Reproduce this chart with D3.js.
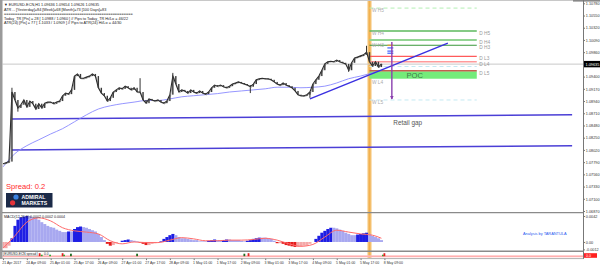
<!DOCTYPE html>
<html><head><meta charset="utf-8">
<script src="https://cdn.jsdelivr.net/npm/d3@7"></script>
<style>body{margin:0;background:#fff;overflow:hidden}svg{display:block;font-family:"Liberation Sans",Arial,sans-serif}</style>
</head><body><svg id="c" width="600" height="267"></svg>
<script>
// ---------- DATA ----------
const closes = [1.0776,1.0778,1.0780,1.0911,1.0896,1.0881,1.0887,1.0896,1.0883,1.0894,
1.0889,1.0879,1.0889,1.0881,1.0890,1.0892,1.0892,1.0889,1.0892,1.0894,
1.0904,1.0909,1.0907,1.0915,1.0941,1.0945,1.0937,1.0937,1.0939,1.0941,
1.0945,1.0941,1.0919,1.0909,1.0904,1.0894,1.0900,1.0911,1.0915,1.0919,
1.0917,1.0922,1.0919,1.0915,1.0919,1.0911,1.0911,1.0896,1.0890,1.0898,
1.0896,1.0894,1.0896,1.0892,1.0890,1.0894,1.0906,1.0941,1.0926,1.0911,
1.0915,1.0913,1.0909,1.0915,1.0911,1.0909,1.0913,1.0909,1.0907,1.0911,
1.0919,1.0924,1.0922,1.0924,1.0921,1.0919,1.0922,1.0926,1.0928,1.0930,
1.0928,1.0926,1.0924,1.0921,1.0926,1.0934,1.0936,1.0937,1.0936,1.0936,
1.0934,1.0930,1.0926,1.0924,1.0928,1.0924,1.0922,1.0919,1.0913,1.0906,
1.0904,1.0904,1.0906,1.0911,1.0926,1.0934,1.0941,1.0952,1.0964,1.0968,
1.0969,1.0968,1.0971,1.0968,1.0966,1.0964,1.0952,1.0966,1.0975,1.0977,
1.0979,1.0981,1.0986,1.0968,1.0960,1.0968,1.0958,1.0964];
const spikeIdx  = [3, 5, 46, 57, 83, 103, 116, 122];
const spikeVals = [1.0919, 1.0874, 1.0937, 1.0947, 1.0909, 1.0900, 1.0949, 1.0998];

const maIdx  = [0,4,8,12,16,20,24,28,32,36,40,44,48,52,56,60,64,68,72,76,80,84,88,92,96,100,104,108,112,116,120,124,127];
const maVals = [1.0770,1.0795,1.0810,1.0821,1.0832,1.0842,1.0855,1.0868,1.0879,1.0885,1.0889,1.0892,1.0895,1.0895,1.0898,1.0902,1.0904,1.0906,1.0908,1.0911,1.0913,1.0915,1.0917,1.0920,1.0920,1.0919,1.0920,1.0922,1.0928,1.0936,1.0941,1.0947,1.0952];

const trendIdx  = [103, 149.3];
const trendVals = [1.0898, 1.1003];
const gapIdx   = [3, 191];
const gapUpper = [1.0860, 1.0868];
const gapLower = [1.0802, 1.0810];

const levelNames = ["W H5","D H5","D H4","D H3","D L3","D L4","W L3","D L5","W L5"];
const levelVals  = [1.1069, 1.1026, 1.1009, 1.0999, 1.0978, 1.0968, 1.0959, 1.0951, 1.0896];
const levelStart = 123, levelEnd = 159;
const dLabelNames = ["D H5","D H4","D H3","D L3","D L4","D L5"];
const dLabelVals  = [1.1026, 1.1009, 1.0999, 1.0978, 1.0968, 1.0951];
const wLabelNames = ["W H5","W H4","W H3","W L4","W L5"];
const wLabelVals  = [1.1069, 1.1026, 1.1004, 1.0933, 1.0896];
const pocRange = [1.0936, 1.0950];
const arrowIdx = 130.5, arrowRange = [1.1005, 1.0898];
const markIdx = [129, 131];
const markVals = [1.0999, 1.0994, 1.0988, 1.0984];
const weekSepIdx = 123;

const priceTicks = [1.10780,1.10550,1.10320,1.10090,1.09860,1.09630,1.09400,1.09170,1.08940,1.08710,1.08480,1.08250,1.08020,1.07790,1.07560,1.07330,1.07100,1.06870];
const lastPrice = 1.09635;

const macdHist = [-0.0010,-0.0010,-0.0006,0.0006,0.0026,0.0036,0.0040,0.0041,0.0042,0.0042,
0.0040,0.0039,0.0036,0.0032,0.0029,0.0026,0.0024,0.0023,0.0020,0.0018,
0.0016,0.0016,0.0017,0.0017,0.0021,0.0024,0.0025,0.0024,0.0023,0.0021,
0.0019,0.0017,0.0013,0.0008,0.0003,-0.0003,-0.0006,-0.0005,-0.0002,0.0000,
0.0002,0.0003,0.0004,0.0003,0.0002,0.0001,-0.0001,-0.0003,-0.0005,-0.0005,
-0.0003,-0.0002,0.0000,0.0001,0.0005,0.0008,0.0011,0.0013,0.0011,0.0008,
0.0006,0.0006,0.0005,0.0004,0.0003,0.0003,0.0001,0.0001,0.0001,0.0002,
0.0003,0.0004,0.0003,0.0002,0.0003,0.0004,0.0004,0.0003,0.0003,0.0003,
0.0002,0.0001,0.0002,0.0003,0.0005,0.0006,0.0007,0.0007,0.0007,0.0006,
0.0005,0.0002,-0.0002,-0.0002,-0.0003,-0.0005,-0.0006,-0.0007,-0.0008,-0.0008,
-0.0007,-0.0006,-0.0006,-0.0003,0.0000,0.0005,0.0010,0.0015,0.0018,0.0021,
0.0023,0.0023,0.0022,0.0020,0.0018,0.0015,0.0013,0.0011,0.0011,0.0012,
0.0013,0.0014,0.0015,0.0013,0.0010,0.0008,0.0006,0.0003];
const sigIdx = maIdx;
const sigVals = [-0.0010,0.0010,0.0032,0.0039,0.0034,0.0023,0.0018,0.0016,0.0013,0.0002,-0.0003,0.0000,-0.0001,-0.0001,0.0003,0.0007,0.0005,0.0002,0.0002,0.0003,0.0003,0.0004,0.0006,0.0003,-0.0003,-0.0007,-0.0004,0.0008,0.0019,0.0016,0.0013,0.0011,0.0006];
const macdTicks = [0.0042, 0.0, -0.0012];
const macdTickLabels = ["0.0042","0.00","-0.0012"];

const spreadIdx  = [12.3, 13, 15.8, 20, 20.5, 22.8, 45, 81, 82.4, 127.5, 128];
const spreadVals = [3, 1.5, 1.5, 3, 1.5, 2.5, 2.5, 2.5, 3, 1.5, 3];

const dateLabels = ["21 Apr 2017","24 Apr 09:00","25 Apr 01:00","25 Apr 17:00","26 Apr 09:00","27 Apr 01:00","27 Apr 17:00","28 Apr 09:00","1 May 01:00","1 May 17:00","2 May 09:00","3 May 01:00","3 May 17:00","4 May 09:00","5 May 01:00","5 May 17:00","8 May 09:00"];
const dateIdx = d3.range(0, 129, 8);

const headerLines = [
 "\u25BC EURUSD-ECN,H1  1.09636 1.09654 1.09626 1.09635",
 "ATR -- [Yesterday]=84      [Week]=68      [Month]=73      [100 Days]=83",
 "==========================================================",
 "Today_TR [Pts] = 28 [ 1.0988 / 1.0960 ]  // Pips to Today_TR Hi/Lo  = 46/22",
 "ATR(24)      [Pts] = 77 [ 1.1033 / 1.0909 ]  // Pips to ATR(24) Hi/Lo      = 44/30"
];

// ---------- DRAW ----------
const FONT = '"Liberation Sans",Arial,sans-serif';
const svg = d3.select('#c');
const x = d3.scaleLinear().domain([0,128]).range([3,384.4]);
const y = d3.scaleLinear().domain([1.0687,1.1078]).range([211,3.3]);
const ym = d3.scaleLinear().domain([-0.0012,0.0042]).range([249.4,216]);

const defs = svg.append('defs');
defs.append('clipPath').attr('id','cm').append('rect').attr('x',2.5).attr('y',0).attr('width',581).attr('height',212);
defs.append('clipPath').attr('id','cd').append('rect').attr('x',2.5).attr('y',213.5).attr('width',581).attr('height',37.5);

svg.append('rect').attr('width',600).attr('height',267).attr('fill','#fff');

// week separator band
const bx = x(weekSepIdx);
svg.append('rect').attr('x',bx-2.2).attr('y',0).attr('width',4.4).attr('height',258).attr('fill','#f8d49a');
svg.append('rect').attr('x',bx-1.1).attr('y',0).attr('width',2.2).attr('height',258).attr('fill','#f2b14f');

const main = svg.append('g').attr('clip-path','url(#cm)');
main.append('line').attr('x1',2).attr('x2',583.5).attr('y1',y(lastPrice)).attr('y2',y(lastPrice)).attr('stroke','#c8c8c8').attr('stroke-width',1);

main.append('rect').attr('x',x(levelStart)).attr('width',x(levelEnd)-x(levelStart))
  .attr('y',y(pocRange[1])).attr('height',y(pocRange[0])-y(pocRange[1])).attr('fill','#74ec7a');

const levelStyle = {
 'W H5':{c:'#b4eeb4',w:1,d:'4,3'}, 'D H5':{c:'#5cb85c',w:1.5}, 'D H4':{c:'#93d493',w:2},
 'D H3':{c:'#3a963a',w:1}, 'D L3':{c:'#ff5a5a',w:1.4}, 'D L4':{c:'#ff9a9a',w:1.6},
 'W L3':{c:'#c4e9f2',w:1,d:'4,3'}, 'D L5':{c:'#c2604f',w:1.5}, 'W L5':{c:'#c4e9f2',w:1,d:'4,3'}
};
levelNames.forEach((n,k)=>{
  const s = levelStyle[n];
  main.append('line').attr('x1',x(levelStart)).attr('x2',x(levelEnd)).attr('y1',y(levelVals[k])).attr('y2',y(levelVals[k]))
    .attr('stroke',s.c).attr('stroke-width',s.w).attr('stroke-dasharray',s.d||null);
});

[gapUpper, gapLower].forEach(v=>{
  main.append('line').attr('x1',x(gapIdx[0])).attr('x2',x(gapIdx[1])).attr('y1',y(v[0])).attr('y2',y(v[1]))
   .attr('stroke','#4b3fd6').attr('stroke-width',1.5);
});

main.append('path').datum(maIdx.map((d,k)=>[d,maVals[k]]))
  .attr('d', d3.line().x(d=>x(d[0])).y(d=>y(d[1])).curve(d3.curveMonotoneX))
  .attr('fill','none').attr('stroke','#8a8aff').attr('stroke-width',0.9);

main.append('line').attr('x1',x(trendIdx[0])).attr('x2',x(trendIdx[1])).attr('y1',y(trendVals[0])).attr('y2',y(trendVals[1]))
  .attr('stroke','#3a30e0').attr('stroke-width',1.5);

spikeIdx.forEach((i,k)=>{
  main.append('line').attr('x1',x(i)).attr('x2',x(i)).attr('y1',y(closes[i])).attr('y2',y(spikeVals[k]))
    .attr('stroke','#333').attr('stroke-width',1);
});
main.append('path').datum(closes)
  .attr('d', d3.line().x((d,i)=>x(i)+0.8).y(d=>y(d)+0.7))
  .attr('fill','none').attr('stroke','#8a8a8a').attr('stroke-width',0.7);
main.append('path').datum(closes)
  .attr('d', d3.line().x((d,i)=>x(i)).y(d=>y(d)))
  .attr('fill','none').attr('stroke','#2b2b2b').attr('stroke-width',1.1).attr('stroke-linejoin','miter');
main.selectAll('rect.cb').data(closes.slice(1)).join('rect').attr('class','cb')
  .attr('x',(d,k)=>x(k+1)-0.7).attr('width',1.4)
  .attr('y',(d,k)=>Math.min(y(d),y(closes[k]))).attr('height',(d,k)=>Math.max(0.6,Math.abs(y(d)-y(closes[k]))))
  .attr('fill','#3a3a3a');

const markColors = ['#f0a030','#4060ff','#4060ff','#4060ff'];
markVals.forEach((v,k)=>{
  main.append('line').attr('x1',x(markIdx[0])).attr('x2',x(markIdx[1])).attr('y1',y(v)).attr('y2',y(v))
    .attr('stroke',markColors[k]).attr('stroke-width',1.2);
});
const ax0 = x(arrowIdx);
main.append('line').attr('x1',ax0).attr('x2',ax0).attr('y1',y(arrowRange[0])).attr('y2',y(arrowRange[1]))
  .attr('stroke','#8a3fae').attr('stroke-width',1.4);
main.append('path').attr('d',`M${ax0-1.8},${y(arrowRange[1])-3}L${ax0+1.8},${y(arrowRange[1])-3}L${ax0},${y(arrowRange[1])+0.5}Z`).attr('fill','#8a3fae');

const lblFont = 4.8;
dLabelNames.forEach((n,k)=>{
  main.append('text').attr('x',x(levelEnd)+2.5).attr('y',y(dLabelVals[k])+3.8).attr('font-size',lblFont).attr('fill','#999').text(n);
});
wLabelNames.forEach((n,k)=>{
  main.append('text').attr('x',x(levelStart)+2.5).attr('y',y(wLabelVals[k])+4).attr('font-size',lblFont).attr('fill','#aaa').text(n);
});
main.append('text').attr('x',x(levelStart)+37).attr('y',y(pocRange[0])-0.8).attr('font-size',7.6).attr('fill','#3f7a4a').text('POC');
main.append('text').attr('x',x(131)).attr('y',y(1.0853)+2.5).attr('font-size',6.4).attr('fill','#555').text('Retail gap');

headerLines.forEach((t,k)=>{
  svg.append('text').attr('x',4).attr('y',[5.6,11.4,15.4,19.6,23.8][k]).attr('font-size',3.8).attr('fill','#222').text(t);
});

svg.append('text').attr('x',6).attr('y',188.6).attr('font-size',7.6).attr('fill','#ff2a2a').text('Spread:  0.2');
svg.append('rect').attr('x',6).attr('y',193).attr('width',46.5).attr('height',14.5).attr('fill','#1b2a48');
svg.append('circle').attr('cx',16).attr('cy',197).attr('r',2.6).attr('fill','#3b82e0');
svg.append('circle').attr('cx',12.6).attr('cy',202.8).attr('r',2.6).attr('fill','#e5333a');
svg.append('text').attr('x',21.5).attr('y',199).attr('font-size',5.2).attr('font-weight','bold').attr('fill','#fff').text('ADMIRAL');
svg.append('text').attr('x',21.5).attr('y',205.4).attr('font-size',5.2).attr('font-weight','bold').attr('fill','#fff').text('MARKETS');

// ---------- MACD ----------
const md = svg.append('g').attr('clip-path','url(#cd)');
const bw = x(1)-x(0);
md.selectAll('rect.h').data(macdHist).join('rect').attr('class','h')
  .attr('x',(d,i)=>x(i)-bw/2).attr('width',bw+0.1)
  .attr('y',d=>Math.min(ym(d),ym(0))).attr('height',d=>Math.abs(ym(d)-ym(0)))
  .attr('fill',(d,i)=>{
    const p = i>0?macdHist[i-1]:d;
    if(d>=0) return d>p?'#1e1ee4':'#a8a8f0';
    return d<p?'#e51c1c':'#f4a8a8';
  });
md.append('path').datum(sigIdx.map((d,k)=>[d,sigVals[k]]))
  .attr('d', d3.line().x(d=>x(d[0])).y(d=>ym(d[1])).curve(d3.curveMonotoneX))
  .attr('fill','none').attr('stroke','#ff6a6a').attr('stroke-width',1);
svg.append('text').attr('x',4).attr('y',217.6).attr('font-size',3.6).attr('fill','#222').text('MACD(12,26,9) 0.0002 0.0002 0.0004');
svg.append('text').attr('x',523).attr('y',234.6).attr('font-size',3.9).attr('fill','#2a5af0').text('Analysis by TARANTULA');

// ---------- spread panel ----------
svg.append('rect').attr('x',2.5).attr('y',255.4).attr('width',581).attr('height',2).attr('fill','#ffd0d0');
svg.append('line').attr('x1',2.5).attr('x2',583.5).attr('y1',256.2).attr('y2',256.2).attr('stroke','#ff8080').attr('stroke-width',0.6);
const spColors = ['#e52020','#2fa82f','#2fa82f','#e52020','#2fa82f','#1f6a1f','#1f6a1f','#1f6a1f','#e52020','#2fa82f','#e52020'];
spreadIdx.forEach((i,k)=>{
  svg.append('rect').attr('x',x(i)-0.9).attr('width',1.8).attr('y',256.2-spreadVals[k]).attr('height',spreadVals[k]).attr('fill',spColors[k]);
});
svg.append('rect').attr('x',3.5).attr('y',251.8).attr('width',34).attr('height',4).attr('fill','#fff').attr('stroke','#888').attr('stroke-width',0.4);
svg.append('text').attr('x',4.3).attr('y',255).attr('font-size',3.2).attr('fill','#222').text('EURUSD-ECN spread');
svg.append('text').attr('x',44).attr('y',255).attr('font-size',3.2).attr('fill','#222').text('0.0');

// ---------- frame ----------
svg.append('line').attr('x1',0).attr('x2',600).attr('y1',0.5).attr('y2',0.5).attr('stroke','#c8c8c8');
svg.append('rect').attr('x',573).attr('y',0).attr('width',27).attr('height',1.6).attr('fill','#888');
svg.append('rect').attr('x',0).attr('y',0).attr('width',2.5).attr('height',259).attr('fill','#9a9a9a');
svg.append('line').attr('x1',583.5).attr('x2',583.5).attr('y1',0).attr('y2',259).attr('stroke','#777').attr('stroke-width',1);
svg.append('line').attr('x1',2).attr('x2',583.5).attr('y1',212.6).attr('y2',212.6).attr('stroke','#8a8a8a').attr('stroke-width',1.4);
svg.append('line').attr('x1',2).attr('x2',583.5).attr('y1',251.3).attr('y2',251.3).attr('stroke','#8a8a8a').attr('stroke-width',1.4);
svg.append('line').attr('x1',2).attr('x2',583.5).attr('y1',258.6).attr('y2',258.6).attr('stroke','#9a9a9a').attr('stroke-width',0.8);

// price axis
const pa = svg.append('g').attr('transform','translate(583.5,0)')
  .call(d3.axisRight(y).tickValues(priceTicks).tickSize(1.5).tickPadding(0.8).tickFormat(d3.format('.5f')));
pa.select('.domain').remove();
pa.selectAll('line').attr('stroke','#777');
pa.selectAll('text').attr('font-size',3.8).attr('fill','#333').attr('font-family',FONT);
svg.append('rect').attr('x',584).attr('y',y(lastPrice)-3.2).attr('width',16).attr('height',6.4).attr('fill','#000');
svg.append('text').attr('x',585.6).attr('y',y(lastPrice)+1.4).attr('font-size',3.8).attr('fill','#fff').text(d3.format('.5f')(lastPrice));

// macd axis
const ma = svg.append('g').attr('transform','translate(583.5,0)')
  .call(d3.axisRight(ym).tickValues(macdTicks).tickSize(1.5).tickPadding(0.8).tickFormat((d,k)=>macdTickLabels[k]));
ma.select('.domain').remove();
ma.selectAll('line').attr('stroke','#777');
ma.selectAll('text').attr('font-size',3.8).attr('fill','#333').attr('font-family',FONT);

svg.append('rect').attr('x',584).attr('y',253.2).attr('width',13).attr('height',4.6).attr('fill','#ff2020');
svg.append('text').attr('x',586).attr('y',256.9).attr('font-size',3.6).attr('fill','#fff').text('0.0');

// date axis
const da = svg.append('g').attr('transform','translate(0,258.6)')
  .call(d3.axisBottom(x).tickValues(dateIdx).tickSize(1.5).tickPadding(1).tickFormat((d,k)=>dateLabels[k]));
da.select('.domain').remove();
da.selectAll('line').attr('stroke','#777');
da.selectAll('text').attr('font-size',3.5).attr('fill','#333').attr('text-anchor','start').attr('dx',-1.2)
  .attr('font-family',FONT);
</script></body></html>
